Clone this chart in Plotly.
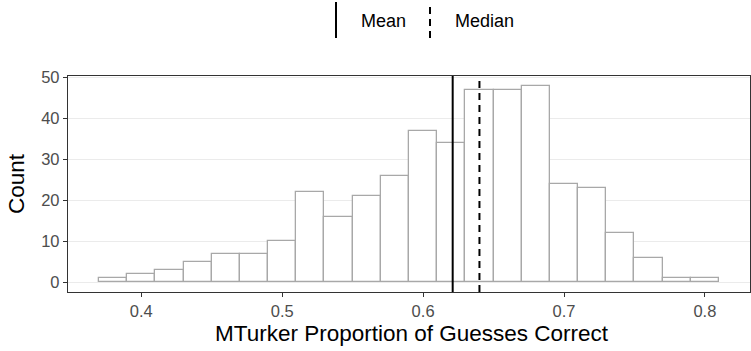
import plotly.graph_objects as go

# Histogram data (bin width 0.02)
bin_left_edges = [0.37, 0.39, 0.41, 0.43, 0.45, 0.47, 0.49, 0.51, 0.53, 0.55, 0.57,
                  0.59, 0.61, 0.63, 0.65, 0.67, 0.69, 0.71, 0.73, 0.75, 0.77, 0.79]
counts = [1, 2, 3, 5, 7, 7, 10, 22, 16, 21, 26, 37, 34, 47, 47, 48, 24, 23, 12, 6, 1, 1]
bin_width = 0.02
mean_value = 0.621
median_value = 0.64
x_ticks = [0.4, 0.5, 0.6, 0.7, 0.8]
y_ticks = [0, 10, 20, 30, 40, 50]
legend_labels = ["Mean", "Median"]
x_title = "MTurker Proportion of Guesses Correct"
y_title = "Count"

FONT = "Liberation Sans, Arial, sans-serif"

centers = [e + bin_width / 2 for e in bin_left_edges]

fig = go.Figure()
fig.add_trace(go.Bar(
    x=centers, y=counts, width=[bin_width] * len(counts),
    marker=dict(color="white", line=dict(color="#A8A8A8", width=1.3)),
    showlegend=False, hoverinfo="x+y",
))

L, R, T, B = 68, 1, 76, 59
W, H = 751, 351
pw, ph = W - L - R, H - T - B

def px2paper_x(px):
    return (px - L) / pw

def px2paper_y(py):
    return (H - B - py) / ph

shapes = [
    dict(type="line", xref="x", yref="paper", x0=mean_value, x1=mean_value, y0=0, y1=1,
         line=dict(color="black", width=2), layer="above"),
    dict(type="line", xref="x", yref="paper", x0=median_value, x1=median_value, y0=0, y1=1,
         line=dict(color="black", width=2, dash="7px,5px"), layer="above"),
    # legend keys
    dict(type="line", xref="paper", yref="paper", x0=px2paper_x(336), x1=px2paper_x(336),
         y0=px2paper_y(38), y1=px2paper_y(2), line=dict(color="black", width=2)),
    dict(type="line", xref="paper", yref="paper", x0=px2paper_x(430), x1=px2paper_x(430),
         y0=px2paper_y(38), y1=px2paper_y(2), line=dict(color="black", width=2, dash="7px,5px")),
]

annotations = [
    dict(text=legend_labels[0], xref="paper", yref="paper", x=px2paper_x(359), y=px2paper_y(21),
         xanchor="left", yanchor="middle", showarrow=False, font=dict(size=18, color="black", family=FONT)),
    dict(text=legend_labels[1], xref="paper", yref="paper", x=px2paper_x(453), y=px2paper_y(21),
         xanchor="left", yanchor="middle", showarrow=False, font=dict(size=18, color="black", family=FONT)),
    dict(text=x_title, xref="paper", yref="paper", x=px2paper_x(412), y=px2paper_y(333),
         xanchor="center", yanchor="middle", showarrow=False, font=dict(size=22.5, color="black", family=FONT)),
    dict(text=y_title, xref="paper", yref="paper", x=px2paper_x(16), y=px2paper_y(184),
         xanchor="center", yanchor="middle", textangle=-90, showarrow=False,
         font=dict(size=22.5, color="black", family=FONT)),
]

fig.update_layout(
    width=W, height=H,
    margin=dict(l=L, r=R, t=T, b=B, pad=0),
    plot_bgcolor="white", paper_bgcolor="white",
    font=dict(family=FONT),
    bargap=0,
    shapes=shapes, annotations=annotations,
    showlegend=False,
)
fig.update_xaxes(
    range=[0.348, 0.832], tickvals=x_ticks, ticktext=[str(v) for v in x_ticks],
    showgrid=False, zeroline=False,
    showline=True, mirror=True, linecolor="#333333", linewidth=1.3,
    ticks="outside", ticklen=4, tickwidth=1.3, tickcolor="#333333",
    tickfont=dict(size=16.5, color="#4D4D4D", family=FONT),
)
fig.update_yaxes(
    range=[-2.4, 50.4], tickvals=y_ticks,
    showgrid=True, gridcolor="#EBEBEB", gridwidth=1.3, zeroline=False,
    showline=True, mirror=True, linecolor="#333333", linewidth=1.3,
    ticks="outside", ticklen=4, tickwidth=1.3, tickcolor="#333333",
    tickfont=dict(size=16.5, color="#4D4D4D", family=FONT),
)

fig.write_html("out.html")
